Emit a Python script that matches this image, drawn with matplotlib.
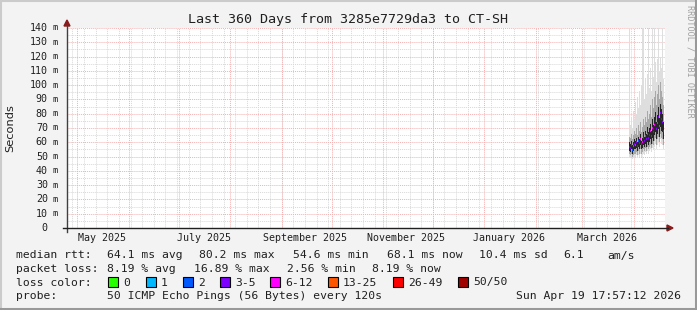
import numpy as np
import matplotlib
matplotlib.use("Agg")
import matplotlib.pyplot as plt
import matplotlib.dates as mdates
import matplotlib.transforms as mtransforms
from matplotlib.patches import Rectangle
from matplotlib.lines import Line2D
import datetime as dt

# ---------------- data ----------------
t_end = dt.datetime(2026, 4, 19, 17, 57, 12)
t_begin = t_end - dt.timedelta(days=360)
data_start = dt.datetime(2026, 3, 29, 0, 0)
step_hours = 14.4

median_ms = [57.0, 56.2, 58.1, 54.6, 57.3, 59.0, 58.2, 60.1, 57.4, 61.2, 59.3, 62.0,
             58.5, 60.4, 63.1, 61.0, 64.2, 62.3, 66.0, 63.2, 65.4, 68.0, 64.1, 70.2,
             67.0, 72.1, 75.0, 69.2, 73.4, 78.0, 71.3, 80.2, 76.1, 74.0, 68.1]
lo_ms = [50, 49, 50, 48, 49, 50, 50, 51, 49, 51, 50, 52, 50, 51, 52, 51, 53, 52,
         54, 52, 54, 55, 53, 56, 55, 57, 59, 55, 58, 60, 57, 62, 59, 58, 55]
p10_ms = [52, 51, 52, 50, 51, 52, 52, 53, 51, 54, 52, 55, 52, 53, 55, 54, 56, 54,
          57, 55, 57, 58, 56, 59, 58, 61, 63, 58, 62, 64, 60, 66, 63, 62, 58]
p25_ms = [54, 53, 55, 52, 54, 55, 55, 56, 54, 57, 55, 58, 55, 56, 58, 57, 59, 57,
          60, 58, 60, 62, 59, 63, 61, 65, 67, 62, 66, 69, 64, 71, 68, 67, 62]
p75_ms = [60, 59, 61, 58, 60, 62, 61, 63, 60, 64, 62, 66, 61, 63, 67, 64, 68, 66,
          71, 67, 70, 73, 68, 76, 72, 78, 81, 74, 79, 85, 77, 87, 83, 80, 74]
p90_ms = [64, 63, 66, 62, 65, 68, 66, 70, 65, 72, 68, 74, 67, 71, 76, 72, 78, 74,
          82, 76, 80, 86, 78, 90, 84, 92, 96, 86, 94, 100, 90, 102, 96, 92, 86]
hi_ms = [150, 72, 78, 70, 82, 76, 88, 80, 92, 84, 96, 86, 100, 150, 150, 90, 104, 94,
         108, 150, 98, 112, 96, 150, 106, 150, 116, 102, 118, 150, 110, 120, 112, 150, 104]
loss_pct = [6.0, 4.2, 8.5, 3.1, 10.2, 7.4, 12.5, 5.8, 9.1, 2.56, 8.8, 14.2, 6.5, 11.0,
            7.9, 4.6, 13.1, 8.2, 16.89, 6.1, 9.5, 12.0, 3.9, 10.4, 7.1, 15.2, 5.3,
            9.8, 13.6, 6.7, 11.4, 4.4, 8.6, 7.0, 8.19]

y_ticks = [0, 10, 20, 30, 40, 50, 60, 70, 80, 90, 100, 110, 120, 130, 140]
month_labels = ["May 2025", "July 2025", "September 2025", "November 2025",
                "January 2026", "March 2026"]
month_label_dates = [dt.datetime(2025, 5, 16), dt.datetime(2025, 7, 16),
                     dt.datetime(2025, 9, 15), dt.datetime(2025, 11, 15),
                     dt.datetime(2026, 1, 16), dt.datetime(2026, 3, 16)]

loss_legend = ["0", "1", "2", "3-5", "6-12", "13-25", "26-49", "50/50"]
loss_colors = ["#26ff00", "#00b8ff", "#0059ff", "#7e00ff", "#ff00ff",
               "#ff5500", "#ff0000", "#a10000"]
loss_bounds = [0, 1, 2, 5, 12, 25, 49, 50]

stats_line = [("median rtt:", 16), ("64.1 ms avg", 107), ("80.2 ms max", 199),
              ("54.6 ms min", 293), ("68.1 ms now", 387), ("10.4 ms sd", 479),
              ("6.1", 563), ("am/s", 607)]
loss_line = [("packet loss:", 16), ("8.19 % avg", 107), ("16.89 % max", 194),
             ("2.56 % min", 287), ("8.19 % now", 372)]

# ---------------- figure ----------------
W, H = 697, 310
fig = plt.figure(figsize=(W / 100, H / 100), dpi=100)
fig.patch.set_facecolor("#f3f3f3")
MONO = "DejaVu Sans Mono"

def fx(x):
    return x / W

def fy(y):
    return 1 - y / H

ax = fig.add_axes([fx(67), fy(228), fx(665) - fx(67), fy(28) - fy(228)])
ax.set_facecolor("white")
ax.set_xlim(t_begin, t_end)
ax.set_ylim(0, 140)
for s in ax.spines.values():
    s.set_visible(False)

# grid
GRID = "#d8d8d8"
MGRID = "#f5b0b0"
wk = mdates.WeekdayLocator(byweekday=mdates.MO)
for d in wk.tick_values(t_begin, t_end):
    ax.axvline(d, color=GRID, lw=0.7, ls=(0, (1, 1)), zorder=0)
for yv in np.arange(5, 140, 10):
    ax.axhline(yv, color=GRID, lw=0.7, ls=(0, (1, 1)), zorder=0)
months = mdates.MonthLocator()
b0, b1 = mdates.date2num(t_begin), mdates.date2num(t_end)
for d in months.tick_values(t_begin, t_end):
    if b0 < d < b1:
        ax.axvline(d, color=MGRID, lw=0.7, ls=(0, (1, 1)), zorder=0.5)
for yv in y_ticks[1:]:
    ax.axhline(yv, color=MGRID, lw=0.7, ls=(0, (1, 1)), zorder=0.5)

# smoke
n = len(median_ms)
times = [data_start + dt.timedelta(hours=step_hours * i) for i in range(n + 1)]
tnum = mdates.date2num(times)

def band(a, b, color, z):
    a = list(a) + [a[-1]]
    b = list(b) + [b[-1]]
    ax.fill_between(tnum, a, b, step="post", color=color, lw=0, zorder=z)

band(lo_ms, hi_ms, "#dedede", 1)
band(p10_ms, p90_ms, "#a8a8a8", 2)
band(p25_ms, p75_ms, "#262626", 3)

def loss_color(p):
    pings = p * 50 / 100.0
    for b, c in zip(loss_bounds, loss_colors):
        if pings <= b + 1e-9:
            return c
    return loss_colors[-1]

for i in range(n):
    ax.plot([tnum[i], tnum[i + 1]], [median_ms[i], median_ms[i]],
            color=loss_color(loss_pct[i]), lw=1.6, solid_capstyle="butt", zorder=4)

ax.set_xticks([])
ax.set_yticks([])

# axes lines with arrows (pixel coords)
fig.add_artist(Line2D([fx(67), fx(67)], [fy(232), fy(25)], color="#404040", lw=1))
fig.add_artist(Line2D([fx(63), fx(668)], [fy(228), fy(228)], color="#202020", lw=1))
fig.add_artist(plt.Polygon([[fx(64), fy(26)], [fx(70), fy(26)], [fx(67), fy(20)]],
                           closed=True, color="#8b1a1a", transform=fig.transFigure))
fig.add_artist(plt.Polygon([[fx(667), fy(225)], [fx(667), fy(231)], [fx(673), fy(228)]],
                           closed=True, color="#8b1a1a", transform=fig.transFigure))

# y tick labels
ytr = ax.get_yaxis_transform()
for v in y_ticks:
    ax.text(-0.032, v, str(v), transform=ytr, ha="right",
            va="center", fontsize=7.2, family=MONO, color="#202020")
    if v > 0:
        ax.text(-0.020, v, "m", transform=ytr, ha="center",
                va="center", fontsize=6.2, family=MONO, color="#202020")

# x tick labels
xtr = mtransforms.blended_transform_factory(ax.transData, fig.transFigure)
for d, lab in zip(month_label_dates, month_labels):
    ax.text(mdates.date2num(d), fy(241), lab, transform=xtr,
            ha="center", va="baseline", fontsize=7.2, family=MONO, color="#202020")

# title, ylabel, watermark
fig.text(fx(348), fy(23), "Last 360 Days from 3285e7729da3 to CT-SH", ha="center",
         va="baseline", fontsize=9.6, family=MONO, color="#202020")
fig.text(fx(10), fy(128), "Seconds", rotation=90, ha="center", va="center",
         fontsize=8.2, family="DejaVu Sans", color="#202020")
fig.text(fx(690), fy(5), "RRDTOOL / TOBI OETIKER", rotation=-90, ha="center",
         va="top", fontsize=6.1, family=MONO, color="#a0a0a0")

# legend text
FS = 8.2
for txt, x in stats_line:
    fig.text(fx(x), fy(258.5), txt, ha="left", va="baseline", fontsize=FS,
             family=MONO, color="#202020")
for txt, x in loss_line:
    fig.text(fx(x), fy(272), txt, ha="left", va="baseline", fontsize=FS,
             family=MONO, color="#202020")
fig.text(fx(16), fy(285.5), "loss color:", ha="left", va="baseline", fontsize=FS,
         family=MONO, color="#202020")
sq_x = [108, 146, 183, 220, 270, 328, 393, 458]
for x, lab, c in zip(sq_x, loss_legend, loss_colors):
    fig.add_artist(Rectangle((fx(x), fy(287)), 10 / W, 10 / H, facecolor=c,
                             edgecolor="black", lw=0.8, transform=fig.transFigure))
    fig.text(fx(x + 15), fy(285.5), lab, ha="left", va="baseline", fontsize=FS,
             family=MONO, color="#202020")
fig.text(fx(16), fy(299), "probe:", ha="left", va="baseline", fontsize=FS,
         family=MONO, color="#202020")
fig.text(fx(107), fy(299), "50 ICMP Echo Pings (56 Bytes) every 120s", ha="left",
         va="baseline", fontsize=FS, family=MONO, color="#202020")
fig.text(fx(681), fy(299), "Sun Apr 19 17:57:12 2026", ha="right", va="baseline",
         fontsize=FS, family=MONO, color="#202020")

# shaded border
fig.add_artist(Line2D([0, 1], [fy(0.5), fy(0.5)], color="#cbcbcb", lw=1.5))
fig.add_artist(Line2D([fx(0.5), fx(0.5)], [0, 1], color="#cbcbcb", lw=1.5))
fig.add_artist(Line2D([0, 1], [fy(309), fy(309)], color="#999999", lw=2.2))
fig.add_artist(Line2D([fx(696), fx(696)], [0, 1], color="#999999", lw=2.2))

fig.savefig("out.png", dpi=100, facecolor=fig.get_facecolor())
